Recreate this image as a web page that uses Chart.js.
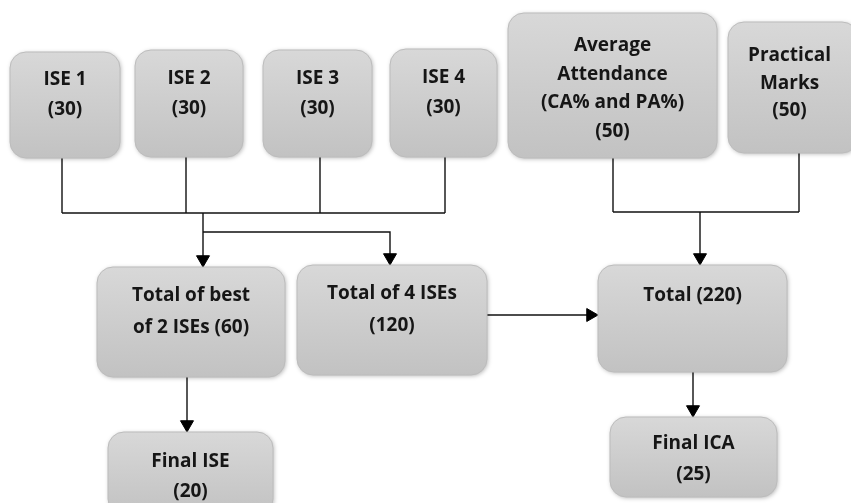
<!DOCTYPE html>
<html lang="en">
<head>
  <meta charset="UTF-8">
  <title>ISE / ICA marks flow</title>
  <style>
  body {
    margin: 0;
    background: #fff;
    overflow: hidden;
  }
  #flow {
    display: block;
  }
  </style>
  <script src="https://cdn.jsdelivr.net/npm/chart.js"></script>
</head>
<body>
  <canvas id="flow" width="851" height="503"></canvas>

  <script>
    // Box texts and marks ({m} is replaced by the mark)
    const boxNames = ['ISE 1', 'ISE 2', 'ISE 3', 'ISE 4', 'Average Attendance', 'Practical Marks',
                      'Total of best of 2 ISEs', 'Total of 4 ISEs', 'Total', 'Final ISE', 'Final ICA'];
    const boxMarks = [30, 30, 30, 30, 50, 50, 60, 120, 220, 20, 25];
    const boxLines = [
      ['ISE 1', '({m})'],
      ['ISE 2', '({m})'],
      ['ISE 3', '({m})'],
      ['ISE 4', '({m})'],
      ['Average', 'Attendance', '(CA% and PA%)', '({m})'],
      ['Practical', 'Marks', '({m})'],
      ['Total of best', 'of 2 ISEs ({m})'],
      ['Total of 4 ISEs', '({m})'],
      ['Total ({m})'],
      ['Final ISE', '({m})'],
      ['Final ICA', '({m})']
    ];

    // Layout, in canvas units (x0, y0, x1, y1) and first text line y
    const boxRects = [
      [10, 52, 120, 158], [135, 50, 243, 157], [263, 50, 372, 157], [390, 49, 497, 157],
      [508, 13, 717, 158], [728, 22, 858, 153],
      [97, 267, 285, 377], [297, 265, 487, 375], [598, 265, 787, 372],
      [108, 432, 273, 515], [610, 417, 777, 497]
    ];
    const textTop = [80, 79, 79, 78, 46, 56, 296, 294, 296, 462, 444];
    const lineGap = [30, 30, 30, 30, 28.5, 27.5, 32, 32, 30, 30, 31];

    // Connector polylines [[x, y], ...]
    const connectors = [
      [[62, 158], [62, 213]], [[186, 157], [186, 213]], [[320, 157], [320, 213]], [[445, 157], [445, 213]],
      [[62, 213], [445, 213]],
      [[203, 213], [203, 262]],
      [[203, 232], [390, 232], [390, 260]],
      [[613, 158], [613, 212]], [[799, 153], [799, 212]], [[613, 212], [799, 212]],
      [[700, 212], [700, 260]],
      [[487, 315], [593, 315]],
      [[187, 377], [187, 427]],
      [[693, 372], [693, 412]]
    ];
    // Arrow tips: x, y, direction in degrees (180 = down, 90 = right)
    const arrowTips = [
      [203, 267, 180], [390, 265, 180], [700, 265, 180], [598, 315, 90], [187, 432, 180], [693, 417, 180]
    ];
    const arrowSize = 7.5;

    const lineDatasets = connectors.map(pts => ({
      type: 'scatter',
      data: pts.map(p => ({ x: p[0], y: p[1] })),
      showLine: true,
      borderColor: '#111',
      borderWidth: 1.4,
      pointRadius: 0,
      order: 2
    }));

    const arrowDataset = {
      type: 'scatter',
      data: arrowTips.map(a => {
        const rad = a[2] * Math.PI / 180;
        return { x: a[0] - Math.sin(rad) * arrowSize, y: a[1] + Math.cos(rad) * arrowSize };
      }),
      pointStyle: 'triangle',
      rotation: arrowTips.map(a => a[2]),
      pointRadius: arrowSize,
      backgroundColor: '#000',
      borderColor: '#000',
      borderWidth: 1,
      order: 1
    };

    function roundRect(ctx, x, y, w, h, r) {
      ctx.beginPath();
      ctx.moveTo(x + r, y);
      ctx.arcTo(x + w, y, x + w, y + h, r);
      ctx.arcTo(x + w, y + h, x, y + h, r);
      ctx.arcTo(x, y + h, x, y, r);
      ctx.arcTo(x, y, x + w, y, r);
      ctx.closePath();
    }

    const boxPlugin = {
      id: 'boxes',
      afterDatasetsDraw(chart) {
        const ctx = chart.ctx;
        const xs = chart.scales.x, ys = chart.scales.y;
        boxRects.forEach((r, i) => {
          const x0 = xs.getPixelForValue(r[0]), x1 = xs.getPixelForValue(r[2]);
          const y0 = ys.getPixelForValue(r[1]), y1 = ys.getPixelForValue(r[3]);
          const w = x1 - x0, h = y1 - y0;
          ctx.save();
          const grad = ctx.createLinearGradient(0, y0, 0, y1);
          grad.addColorStop(0, '#d8d8d8');
          grad.addColorStop(1, '#c2c2c2');
          ctx.shadowColor = 'rgba(0,0,0,0.28)';
          ctx.shadowBlur = 4;
          ctx.shadowOffsetX = 1;
          ctx.shadowOffsetY = 1;
          roundRect(ctx, x0, y0, w, h, 16);
          ctx.fillStyle = grad;
          ctx.fill();
          ctx.shadowColor = 'transparent';
          ctx.strokeStyle = '#bcbcbc';
          ctx.lineWidth = 1;
          ctx.stroke();

          ctx.fillStyle = '#161616';
          ctx.font = 'bold 19px "Open Sans", sans-serif';
          ctx.textAlign = 'center';
          ctx.textBaseline = 'middle';
          const cx = xs.getPixelForValue((r[0] + Math.min(r[2], 851)) / 2);
          boxLines[i].forEach((line, k) => {
            const ty = ys.getPixelForValue(textTop[i] + k * lineGap[i]);
            ctx.fillText(line.replace('{m}', boxMarks[i]), cx, ty);
          });
          ctx.restore();
        });
      }
    };

    new Chart(document.getElementById('flow'), {
      type: 'scatter',
      data: { datasets: [...lineDatasets, arrowDataset] },
      options: {
        responsive: false,
        animation: false,
        layout: { padding: 0, autoPadding: false },
        plugins: { legend: { display: false }, tooltip: { enabled: false }, title: { display: false } },
        scales: {
          x: { type: 'linear', min: 0, max: 851, display: false },
          y: { type: 'linear', min: 0, max: 503, reverse: true, display: false }
        }
      },
      plugins: [boxPlugin]
    });
  </script>
</body>
</html>
